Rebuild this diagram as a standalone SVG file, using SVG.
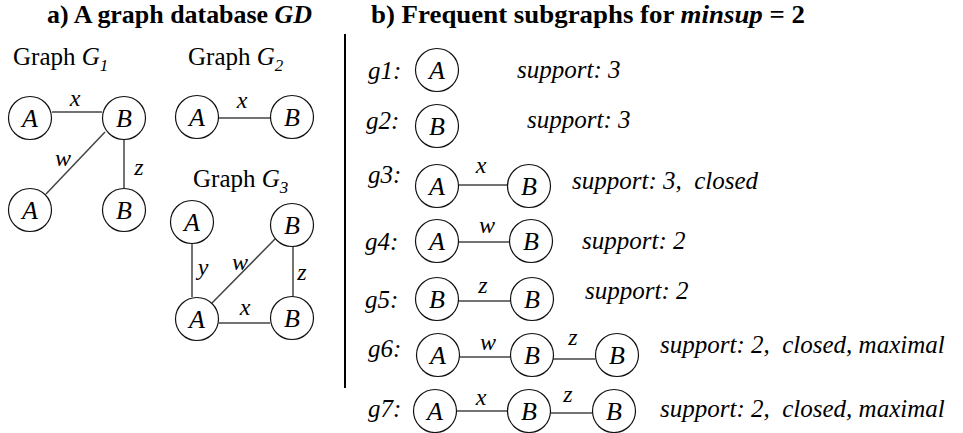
<svg xmlns="http://www.w3.org/2000/svg" width="963" height="433" viewBox="0 0 963 433">
  <style>
    text { font-family: 'Liberation Serif', 'Times New Roman', Times, serif; fill: #000; }
    .title { font-size: 26px; font-weight: bold; }
    .cap { font-size: 25px; }
    .it { font-style: italic; }
    .sub { font-size: 17px; font-style: italic; }
    .ring { fill: #fff; stroke: #111; stroke-width: 1.2; }
    .node text { font-size: 26px; font-style: italic; text-anchor: middle; }
    .edges line { stroke: #444; stroke-width: 1.5; }
    .elbl { font-size: 24px; font-style: italic; text-anchor: middle; }
    .glbl { font-size: 25px; font-style: italic; }
    .sup { font-size: 25px; font-style: italic; }
  </style>

  <!-- headings -->
  <text class="title" x="47" y="23" textLength="265" lengthAdjust="spacingAndGlyphs">a) A graph database <tspan class="it">GD</tspan></text>
  <text class="title" x="371" y="23" textLength="434" lengthAdjust="spacingAndGlyphs">b) Frequent subgraphs for <tspan class="it">minsup</tspan> = 2</text>

  <!-- separator -->
  <line x1="345" y1="34" x2="345" y2="388" stroke="#000" stroke-width="2"/>

  <!-- graph captions -->
  <text class="cap" x="13" y="65">Graph <tspan class="it">G</tspan><tspan class="sub" dy="6">1</tspan></text>
  <text class="cap" x="188" y="65">Graph <tspan class="it">G</tspan><tspan class="sub" dy="6">2</tspan></text>
  <text class="cap" x="193" y="187">Graph <tspan class="it">G</tspan><tspan class="sub" dy="6">3</tspan></text>

  <!-- edges -->
  <g class="edges" id="edges">
    <!-- G1 -->
    <line x1="52" y1="112" x2="102" y2="112"/>
    <line x1="105" y1="132" x2="46" y2="194"/>
    <line x1="124" y1="140" x2="124" y2="188"/>
    <!-- G2 -->
    <line x1="218" y1="118" x2="270" y2="118"/>
    <!-- G3 -->
    <line x1="192" y1="243" x2="192" y2="297"/>
    <line x1="276" y1="238" x2="212" y2="303"/>
    <line x1="293" y1="246" x2="293" y2="297"/>
    <line x1="219" y1="323" x2="270" y2="323"/>
    <!-- g3 .. g7 -->
    <line x1="458" y1="185" x2="508" y2="185"/>
    <line x1="458" y1="242" x2="509" y2="242"/>
    <line x1="458" y1="301" x2="510" y2="301"/>
    <line x1="460" y1="357" x2="510" y2="357"/>
    <line x1="553" y1="359" x2="595" y2="359"/>
    <line x1="457" y1="411" x2="507" y2="411"/>
    <line x1="551" y1="413" x2="592" y2="413"/>
  </g>

  <!-- edge labels -->
  <g id="edge-labels">
    <text class="elbl" x="75" y="106">x</text>
    <text class="elbl" x="63" y="166">w</text>
    <text class="elbl" x="139" y="175">z</text>
    <text class="elbl" x="242" y="108">x</text>
    <text class="elbl" x="203" y="275">y</text>
    <text class="elbl" x="240" y="270">w</text>
    <text class="elbl" x="302" y="280">z</text>
    <text class="elbl" x="245" y="315">x</text>
    <text class="elbl" x="481" y="173">x</text>
    <text class="elbl" x="487" y="233">w</text>
    <text class="elbl" x="483" y="293">z</text>
    <text class="elbl" x="488" y="350">w</text>
    <text class="elbl" x="573" y="345">z</text>
    <text class="elbl" x="481" y="405">x</text>
    <text class="elbl" x="568" y="402">z</text>
  </g>

  <!-- G1 nodes -->
  <g id="G1-n1" class="node" transform="translate(30,118)"><circle class="ring" r="21.5"/><text y="9">A</text></g>
  <g id="G1-n2" class="node" transform="translate(124,118)"><circle class="ring" r="21.5"/><text y="9">B</text></g>
  <g id="G1-n3" class="node" transform="translate(30,210)"><circle class="ring" r="21.5"/><text y="9">A</text></g>
  <g id="G1-n4" class="node" transform="translate(124,210)"><circle class="ring" r="21.5"/><text y="9">B</text></g>

  <!-- G2 nodes -->
  <g id="G2-n1" class="node" transform="translate(197,117)"><circle class="ring" r="21.5"/><text y="9">A</text></g>
  <g id="G2-n2" class="node" transform="translate(292,117)"><circle class="ring" r="21.5"/><text y="9">B</text></g>

  <!-- G3 nodes -->
  <g id="G3-n1" class="node" transform="translate(192,222)"><circle class="ring" r="21.5"/><text y="9">A</text></g>
  <g id="G3-n2" class="node" transform="translate(292,225)"><circle class="ring" r="21.5"/><text y="9">B</text></g>
  <g id="G3-n3" class="node" transform="translate(197,319)"><circle class="ring" r="21.5"/><text y="9">A</text></g>
  <g id="G3-n4" class="node" transform="translate(292,318)"><circle class="ring" r="21.5"/><text y="9">B</text></g>

  <!-- subgraph labels -->
  <text class="glbl" x="368" y="79">g1:</text>
  <text class="glbl" x="366" y="129">g2:</text>
  <text class="glbl" x="368" y="183">g3:</text>
  <text class="glbl" x="365" y="250">g4:</text>
  <text class="glbl" x="365" y="308">g5:</text>
  <text class="glbl" x="368" y="357">g6:</text>
  <text class="glbl" x="368" y="417">g7:</text>

  <!-- subgraph nodes -->
  <g id="s1-n1" class="node" transform="translate(437,70)"><circle class="ring" r="21.5"/><text y="9">A</text></g>
  <g id="s2-n1" class="node" transform="translate(437,126)"><circle class="ring" r="21.5"/><text y="9">B</text></g>
  <g id="s3-n1" class="node" transform="translate(437,186)"><circle class="ring" r="21.5"/><text y="9">A</text></g>
  <g id="s3-n2" class="node" transform="translate(529,186)"><circle class="ring" r="21.5"/><text y="9">B</text></g>
  <g id="s4-n1" class="node" transform="translate(437,241)"><circle class="ring" r="21.5"/><text y="9">A</text></g>
  <g id="s4-n2" class="node" transform="translate(531,241)"><circle class="ring" r="21.5"/><text y="9">B</text></g>
  <g id="s5-n1" class="node" transform="translate(437,299)"><circle class="ring" r="21.5"/><text y="9">B</text></g>
  <g id="s5-n2" class="node" transform="translate(532,299)"><circle class="ring" r="21.5"/><text y="9">B</text></g>
  <g id="s6-n1" class="node" transform="translate(438,355)"><circle class="ring" r="21.5"/><text y="9">A</text></g>
  <g id="s6-n2" class="node" transform="translate(532,355)"><circle class="ring" r="21.5"/><text y="9">B</text></g>
  <g id="s6-n3" class="node" transform="translate(617,355)"><circle class="ring" r="21.5"/><text y="9">B</text></g>
  <g id="s7-n1" class="node" transform="translate(435,411)"><circle class="ring" r="21.5"/><text y="9">A</text></g>
  <g id="s7-n2" class="node" transform="translate(529,411)"><circle class="ring" r="21.5"/><text y="9">B</text></g>
  <g id="s7-n3" class="node" transform="translate(614,411)"><circle class="ring" r="21.5"/><text y="9">B</text></g>

  <!-- support annotations -->
  <text class="sup" x="517" y="78">support: 3</text>
  <text class="sup" x="527" y="128">support: 3</text>
  <text class="sup" x="572" y="189" xml:space="preserve">support: 3,  closed</text>
  <text class="sup" x="582" y="249">support: 2</text>
  <text class="sup" x="585" y="299">support: 2</text>
  <text class="sup" x="660" y="353" xml:space="preserve">support: 2,  closed, maximal</text>
  <text class="sup" x="660" y="417" xml:space="preserve">support: 2,  closed, maximal</text>
</svg>
